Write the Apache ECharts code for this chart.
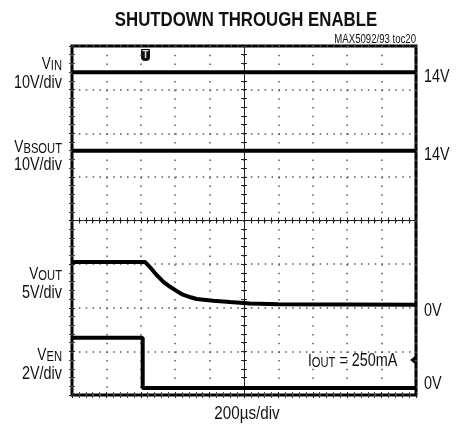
<!DOCTYPE html>
<html>
<head>
<meta charset="utf-8">
<script src="https://cdn.jsdelivr.net/npm/echarts@6/dist/echarts.min.js"></script>
<style>
  html, body { margin: 0; padding: 0; background: #fff; }
  #scope-chart { width: 456px; height: 431px; }
</style>
</head>
<body>
<div id="scope-chart"></div>
<script>
// time base 200us/div, 10 divisions
var timeTicksUs = [0, 200, 400, 600, 800, 1000, 1200, 1400, 1600, 1800, 2000];

// VIN (10V/div)
var vinTime = [0, 2000];
var vinVolts = [14, 14];

// VBSOUT (10V/div)
var vbsTime = [0, 2000];
var vbsVolts = [14, 14];

// VOUT (5V/div)
var voutTime = [0, 424, 460, 492, 530, 570, 610, 645, 690, 725, 820, 919, 1035, 1200, 2000];
var voutVolts = [4.95, 4.95, 4.2, 3.45, 2.7, 2.1, 1.6, 1.2, 0.9, 0.7, 0.5, 0.35, 0.2, 0.1, 0.05];

// VEN (2V/div)
var venTime = [0, 411, 411, 2000];
var venVolts = [2.3, 2.3, 0, 0];

var FONT = "'Liberation Sans', Arial, sans-serif";
var NARROW = 0.8; // squeeze to mimic a condensed face
var DIV_H = 349 / 8;

function pairs(t, v) {
  return t.map(function (x, i) { return [x, v[i]]; });
}

function channelAxis(voltsPerDiv, groundDiv) {
  // hidden axis: ground sits groundDiv divisions above the bottom
  return {
    type: "value",
    min: -groundDiv * voltsPerDiv,
    max: (8 - groundDiv) * voltsPerDiv,
    show: false,
  };
}

function centreX(inside) {
  return {
    type: "value", min: 0, max: 2000, interval: 200,
    position: "top", offset: -174.5,
    axisLine: { show: true, lineStyle: { color: "#222", width: 1 } },
    axisTick: { show: true, inside: inside, length: 3, lineStyle: { color: "#222" } },
    minorTick: { show: true, splitNumber: 5, length: 3, lineStyle: { color: "#222" } },
    axisLabel: { show: false }, splitLine: { show: false },
  };
}

function centreY(inside) {
  return {
    type: "value", min: 0, max: 8, interval: 1,
    position: "left", offset: -172,
    axisLine: { show: true, lineStyle: { color: "#222", width: 1 } },
    axisTick: { show: true, inside: inside, length: 3, lineStyle: { color: "#222" } },
    minorTick: { show: true, splitNumber: 5, length: 3, lineStyle: { color: "#222" } },
    axisLabel: { show: false }, splitLine: { show: false },
  };
}

function edgeAxis(kind, pos, withSplit) {
  var ax = {
    type: "value",
    position: pos,
    axisLine: { show: false },
    axisTick: { show: true, inside: true, length: 3, lineStyle: { color: "#222" } },
    minorTick: { show: true, splitNumber: 5, length: 3, lineStyle: { color: "#444" } },
    axisLabel: { show: false },
    splitLine: { show: false },
  };
  if (kind === "x") {
    ax.min = 0; ax.max = 2000; ax.interval = 200;
  } else {
    ax.min = 0; ax.max = 8; ax.interval = 1;
  }
  if (withSplit) {
    ax.splitLine = {
      show: true,
      lineStyle: {
        color: "#555", width: 1.5,
        type: kind === "x" ? [1.5, DIV_H / 5 - 1.5] : [1.5, 34.4 / 5 - 1.5],
      },
    };
  }
  return ax;
}

function trace(name, yIdx, t, v) {
  return {
    name: name, type: "line", xAxisIndex: 0, yAxisIndex: yIdx,
    data: pairs(t, v), showSymbol: false, silent: true,
    lineStyle: { color: "#000", width: 4 },
  };
}

function label(text, x, y, align, size, bold) {
  return {
    type: "text", x: x, y: y, scaleX: NARROW,
    style: {
      text: text, fill: "#111", fontFamily: FONT, fontSize: size || 18,
      fontWeight: bold ? "bold" : "normal",
      align: align, verticalAlign: "middle",
    },
  };
}

var richParts = {
  v: { fontFamily: FONT, fontSize: 17, fill: "#111", lineHeight: 20, verticalAlign: "bottom" },
  t: { fontFamily: FONT, fontSize: 18, fill: "#111", lineHeight: 20, verticalAlign: "bottom" },
  s: { fontFamily: FONT, fontSize: 14, fill: "#111", lineHeight: 15, verticalAlign: "bottom" },
};

function subLabel(main, sub, x, y, align, tail) {
  return {
    type: "text", x: x, y: y, scaleX: NARROW,
    style: {
      text: "{v|" + main + "}{s|" + sub + "}" + (tail ? "{t|" + tail + "}" : ""),
      align: align || "right", verticalAlign: "middle", fill: "#111",
      rich: richParts,
    },
  };
}

var myChart = echarts.init(document.getElementById("scope-chart"));

var option = {
  animation: false,
  backgroundColor: "#fff",
  grid: {
    left: 72, top: 46, width: 344, height: 349,
    show: true, borderColor: "#000", borderWidth: 3, backgroundColor: "#fff",
  },
  xAxis: [
    edgeAxis("x", "bottom", true),
    edgeAxis("x", "top", false),
    centreX(false),
    centreX(true),
  ],
  yAxis: [
    edgeAxis("y", "left", true),
    edgeAxis("y", "right", false),
    centreY(false),
    centreY(true),
    channelAxis(10, 6),
    channelAxis(10, 4.2),
    channelAxis(5, 2.06),
    channelAxis(2, 0.16),
  ],
  series: [
    trace("VIN", 4, vinTime, vinVolts),
    trace("VBSOUT", 5, vbsTime, vbsVolts),
    trace("VOUT", 6, voutTime, voutVolts),
    trace("VEN", 7, venTime, venVolts),
  ],
  graphic: [
    label("SHUTDOWN THROUGH ENABLE", 246, 20, "center", 21, true),
    label("MAX5092/93 toc20", 416, 40, "right", 12),
    subLabel("V", "IN", 62, 63),
    label("10V/div", 62, 83, "right"),
    subLabel("V", "BSOUT", 62, 146),
    label("10V/div", 62, 165, "right"),
    subLabel("V", "OUT", 62, 273),
    label("5V/div", 62, 293, "right"),
    subLabel("V", "EN", 62, 354),
    label("2V/div", 62, 374, "right"),
    label("14V", 424, 77, "left"),
    label("14V", 424, 155, "left"),
    label("0V", 424, 311, "left"),
    label("0V", 424, 384, "left"),
    subLabel("I", "OUT", 308, 360, "left", " = 250mA"),
    // trigger level arrow
    { type: "polygon", shape: { points: [[410, 360], [415, 356], [415, 364]] }, style: { fill: "#111" } },
    // trigger position marker
    { type: "rect", shape: { x: 141, y: 49, width: 9, height: 12, r: [1, 1, 4, 4] }, style: { fill: "#111" } },
    { type: "text", x: 145.5, y: 55, style: { text: "T", fill: "#ddd", fontFamily: FONT, fontSize: 10, fontWeight: "bold", align: "center", verticalAlign: "middle" } },
    label("200\u00b5s/div", 247, 414, "center", 19),
  ],
};

myChart.setOption(option);

window.addEventListener("resize", function () {
  myChart.resize();
});
</script>
</body>
</html>
